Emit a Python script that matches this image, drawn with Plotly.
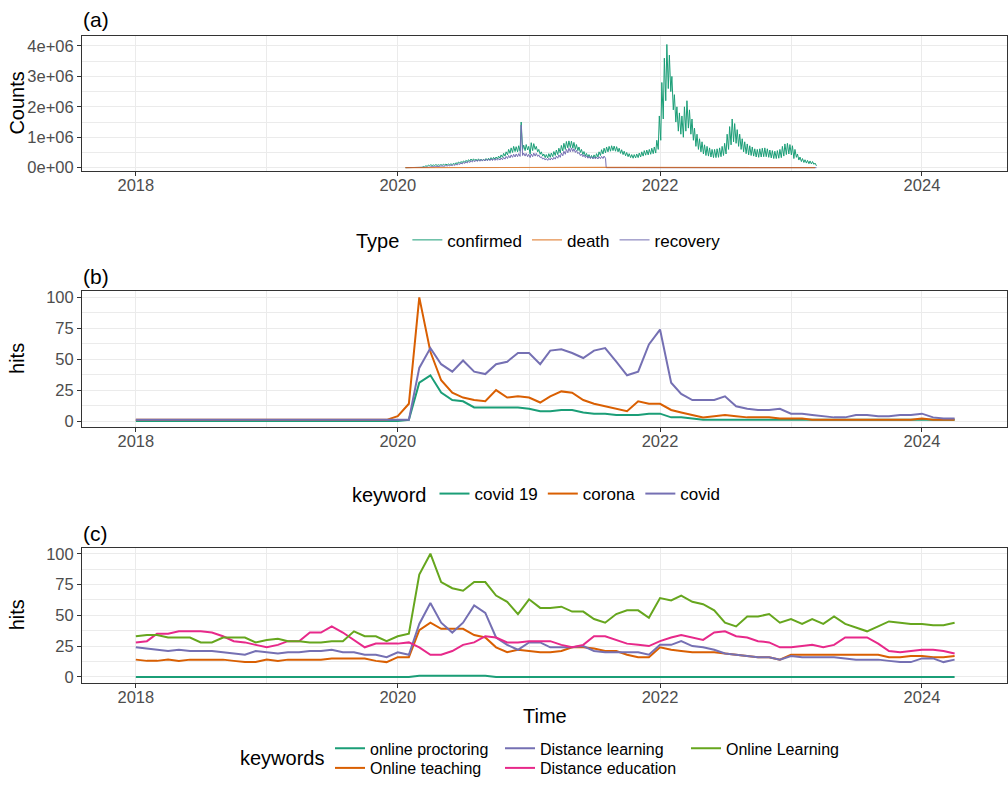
import pandas as pd
import plotly.graph_objects as go

# ---------------------------------------------------------------------------
# (a) Global daily COVID-19 counts, one weekly peak and trough (thousands)
# ---------------------------------------------------------------------------
case_start = "2020-01-22"

confirmed_peak = [
    1, 3, 4, 3, 3, 5,
    15, 35, 60, 80,
    95, 90, 100, 95,
    100, 110, 115, 120, 125,
    140, 160, 185, 200,
    220, 240, 260, 285, 290,
    280, 290, 280, 285,
    300, 310, 330, 340,
    350, 380, 420, 470, 520,
    600, 650, 700, 690,
    720, 1500, 740, 760, 700,
    820, 790, 700, 600,
    520, 450, 430, 460,
    480, 530, 580, 640,
    730, 800, 860, 880, 870,
    830, 760, 680, 600,
    530, 470, 430, 400, 420,
    460, 520, 590, 640,
    680, 700, 720, 710, 690,
    640, 590, 540, 500,
    460, 430, 430, 450,
    480, 520, 560, 580, 600,
    640, 680, 900, 1700,
    2800, 3600, 4050, 3700,
    3000, 2400, 2000, 1800,
    1700, 2000, 2200, 1900, 1600,
    1300, 1100, 950, 850,
    750, 700, 650, 600, 600,
    620, 650, 700, 800,
    1100, 1350, 1600, 1450, 1250,
    1100, 950, 850, 780,
    720, 680, 620, 600,
    620, 640, 650, 620, 580,
    560, 540, 560, 600,
    700, 780, 800, 760, 720,
    600, 450, 350, 300,
    260, 240, 220, 200,
    150,
]
confirmed_trough = [
    0, 1, 2, 2, 1, 2,
    10, 25, 45, 65,
    70, 72, 75, 78,
    80, 85, 90, 95, 100,
    110, 130, 150, 165,
    180, 195, 215, 230, 235,
    220, 230, 225, 230,
    240, 250, 265, 280,
    290, 310, 340, 380, 420,
    470, 500, 530, 520,
    540, 600, 560, 580, 450,
    560, 600, 520, 440,
    380, 330, 320, 340,
    360, 400, 430, 480,
    550, 600, 650, 660, 640,
    600, 560, 500, 430,
    380, 340, 310, 300, 320,
    350, 400, 450, 490,
    520, 540, 560, 540, 520,
    470, 430, 390, 360,
    330, 310, 320, 330,
    350, 380, 410, 420, 440,
    460, 480, 600, 900,
    1600, 2200, 2600, 2500,
    1900, 1500, 1200, 1100,
    1000, 1200, 1300, 1100, 900,
    700, 600, 520, 450,
    400, 380, 350, 330, 330,
    340, 360, 400, 450,
    600, 750, 850, 800, 700,
    600, 520, 460, 420,
    400, 380, 350, 340,
    350, 360, 360, 340, 320,
    300, 300, 310, 330,
    380, 430, 450, 420, 300,
    340, 250, 200, 170,
    150, 130, 120, 110,
    60,
]
# recoveries stopped being reported in early August 2021
recovery_peak = [
    0, 1, 2, 3, 4, 3,
    3, 5, 10, 20,
    30, 40, 45, 50,
    55, 60, 70, 75, 85,
    95, 110, 130, 150,
    170, 190, 210, 230, 240,
    250, 260, 270, 270,
    280, 285, 290, 295,
    300, 300, 320, 340, 370,
    400, 420, 440, 450,
    460, 1400, 480, 470, 440,
    450, 480, 470, 420,
    360, 320, 300, 310,
    320, 340, 380, 420,
    480, 540, 600, 640, 650,
    620, 570, 500, 450,
    420, 390, 370, 360, 350,
    350, 360, 370, 380,
]
recovery_trough = [
    0, 0, 1, 2, 2, 2,
    2, 3, 7, 14,
    22, 30, 35, 40,
    45, 48, 55, 60, 68,
    75, 88, 105, 120,
    140, 155, 170, 185, 195,
    205, 210, 215, 220,
    225, 230, 235, 240,
    245, 250, 260, 280, 300,
    320, 340, 350, 360,
    370, 400, 380, 360, 330,
    360, 380, 370, 330,
    280, 250, 240, 250,
    260, 280, 310, 340,
    390, 440, 490, 520, 530,
    500, 460, 400, 360,
    330, 310, 300, 290, 285,
    285, 295, 300, 310,
]
# monthly deaths (thousands), Jan 2020 .. Mar 2023
death_month = [0.1, 1.5, 4, 7, 5, 4.5, 5, 6, 5.5, 6, 9, 11,
               14, 12, 9, 11, 12, 9, 8, 10, 9.5, 7.5, 7, 7.5,
               9, 10, 6.5, 3.5, 2.5, 1.5, 2, 2.5, 2, 1.5, 1.5, 2,
               2.5, 1.5, 1.2]

# ---------------------------------------------------------------------------
# (b) Monthly search interest, Jan 2018 .. Apr 2024
# ---------------------------------------------------------------------------
covid_19 = [0, 0, 0, 0, 0, 0, 0, 0, 0, 0, 0, 0,
            0, 0, 0, 0, 0, 0, 0, 0, 0, 0, 0, 0,
            0, 1, 31, 37, 23, 17, 16, 11, 11, 11, 11, 11,
            10, 8, 8, 9, 9, 7, 6, 6, 5, 5, 5, 6,
            6, 3, 3, 2, 1, 1, 1, 1, 1, 1, 1, 1,
            1, 1, 1, 1, 1, 1, 1, 1, 1, 1, 1, 1,
            1, 1, 1, 1]
corona = [1, 1, 1, 1, 1, 1, 1, 1, 1, 1, 1, 1,
          1, 1, 1, 1, 1, 1, 1, 1, 1, 1, 1, 1,
          4, 14, 100, 56, 33, 23, 19, 17, 16, 25, 19, 20,
          19, 15, 20, 24, 23, 17, 14, 12, 10, 8, 16, 14,
          14, 9, 7, 5, 3, 4, 5, 4, 3, 3, 3, 2,
          2, 2, 1, 1, 1, 1, 1, 1, 1, 1, 1, 1,
          2, 1, 1, 1]
covid = [1, 1, 1, 1, 1, 1, 1, 1, 1, 1, 1, 1,
         1, 1, 1, 1, 1, 1, 1, 1, 1, 1, 1, 1,
         1, 1, 43, 59, 46, 40, 49, 40, 38, 46, 48, 55,
         55, 46, 57, 58, 55, 51, 57, 59, 48, 37, 40, 62,
         74, 31, 22, 17, 17, 17, 20, 12, 10, 9, 9, 10,
         6, 6, 5, 4, 3, 3, 5, 5, 4, 4, 5, 5,
         6, 3, 2, 2]

# ---------------------------------------------------------------------------
# (c) Monthly search interest for online-education keywords
# ---------------------------------------------------------------------------
online_proctoring = [0, 0, 0, 0, 0, 0, 0, 0, 0, 0, 0, 0,
                     0, 0, 0, 0, 0, 0, 0, 0, 0, 0, 0, 0,
                     0, 0, 1, 1, 1, 1, 1, 1, 1, 0, 0, 0,
                     0, 0, 0, 0, 0, 0, 0, 0, 0, 0, 0, 0,
                     0, 0, 0, 0, 0, 0, 0, 0, 0, 0, 0, 0,
                     0, 0, 0, 0, 0, 0, 0, 0, 0, 0, 0, 0,
                     0, 0, 0, 0]
online_teaching = [14, 13, 13, 14, 13, 14, 14, 14, 14, 13, 12, 12,
                   14, 13, 14, 14, 14, 14, 15, 15, 15, 15, 13, 12,
                   16, 16, 38, 44, 39, 39, 39, 34, 32, 24, 20, 22,
                   21, 20, 20, 21, 24, 24, 23, 21, 21, 18, 16, 16,
                   24, 22, 21, 20, 20, 20, 19, 18, 17, 16, 16, 14,
                   18, 18, 18, 18, 18, 18, 18, 18, 18, 16, 16, 17,
                   17, 16, 16, 17]
distance_learning = [24, 23, 22, 21, 22, 21, 21, 21, 20, 19, 18, 21,
                     20, 19, 20, 20, 21, 21, 22, 20, 20, 18, 18, 16,
                     20, 18, 43, 60, 44, 36, 44, 58, 52, 32, 26, 22,
                     28, 28, 24, 24, 24, 25, 21, 20, 20, 20, 20, 18,
                     26, 26, 29, 25, 24, 22, 19, 18, 17, 16, 16, 14,
                     17, 16, 16, 16, 16, 15, 14, 14, 14, 13, 12, 12,
                     15, 15, 12, 14]
distance_education = [28, 29, 35, 35, 37, 37, 37, 36, 33, 29, 28, 26,
                      24, 26, 29, 29, 36, 36, 41, 36, 30, 24, 27, 27,
                      27, 28, 24, 18, 18, 21, 26, 28, 33, 32, 28, 28,
                      29, 29, 29, 26, 24, 26, 33, 33, 30, 27, 26, 25,
                      29, 32, 34, 32, 30, 36, 37, 33, 32, 29, 28, 24,
                      24, 25, 26, 24, 26, 32, 32, 32, 27, 21, 20, 21,
                      22, 22, 21, 19]
online_learning = [33, 34, 34, 32, 32, 32, 28, 28, 32, 32, 32, 28,
                   30, 31, 29, 29, 28, 28, 29, 29, 37, 33, 33, 29,
                   33, 35, 83, 100, 77, 72, 70, 77, 77, 66, 61, 51,
                   63, 56, 56, 57, 53, 53, 47, 44, 51, 54, 54, 48,
                   64, 62, 66, 61, 59, 54, 44, 41, 49, 49, 51, 44,
                   47, 43, 47, 43, 49, 43, 40, 37, 41, 45, 44, 43,
                   43, 42, 42, 44]

year_ticks = ["2018", "2020", "2022", "2024"]
count_ticks = ["0e+00", "1e+06", "2e+06", "3e+06", "4e+06"]
hit_ticks = [0, 25, 50, 75, 100]

# Dark2 palette
TEAL, ORANGE, PURPLE, PINK, GREEN = "#1B9E77", "#D95F02", "#7570B3", "#E7298A", "#66A61E"

# ---------------------------------------------------------------------------
# Build x values
# ---------------------------------------------------------------------------
weeks = pd.date_range(case_start, periods=len(confirmed_peak), freq="7D")
one_day = pd.Timedelta(days=1)


def weekly_zigzag(peaks, troughs, week_dates):
    xs, ys = [], []
    for d, p, t in zip(week_dates, peaks, troughs):
        xs += [d + one_day, d + 5 * one_day]
        ys += [p * 1000, t * 1000]
    return xs, ys


conf_x, conf_y = weekly_zigzag(confirmed_peak, confirmed_trough, weeks)
rec_x, rec_y = weekly_zigzag(recovery_peak, recovery_trough, weeks[:len(recovery_peak)])
# after reporting stopped the series sits at zero
for d in weeks[len(recovery_peak):]:
    rec_x += [d, d + 5 * one_day]
    rec_y += [0, 0]

death_x = ([pd.Timestamp(case_start)]
           + list(pd.date_range("2020-02-01", "2023-02-01", freq="MS") + 14 * one_day)
           + [pd.Timestamp("2023-03-09")])
death_y = [v * 1000 for v in death_month]

months = pd.date_range("2018-01-01", periods=len(covid), freq="MS")

# ---------------------------------------------------------------------------
# Figure
# ---------------------------------------------------------------------------
W, H = 1008, 785
FONT = "Liberation Sans, Arial, sans-serif"


def fx(p):
    return p / W


def fy(p):
    return 1 - p / H


fig = go.Figure()

# (a) -- deaths drawn last, semi-opaque, so the zero line shows both series
fig.add_trace(go.Scatter(x=conf_x, y=conf_y, mode="lines", name="confirmed",
                         line=dict(color=TEAL, width=1), xaxis="x", yaxis="y",
                         legend="legend", legendrank=1))
fig.add_trace(go.Scatter(x=rec_x, y=rec_y, mode="lines", name="recovery",
                         line=dict(color=PURPLE, width=1), xaxis="x", yaxis="y",
                         legend="legend", legendrank=3))
fig.add_trace(go.Scatter(x=death_x, y=death_y, mode="lines", name="death",
                         line=dict(color=ORANGE, width=1.2), opacity=0.7,
                         xaxis="x", yaxis="y", legend="legend", legendrank=2))

# (b)
for name, vals, col in [("covid 19", covid_19, TEAL), ("corona", corona, ORANGE),
                        ("covid", covid, PURPLE)]:
    fig.add_trace(go.Scatter(x=months, y=vals, mode="lines", name=name,
                             line=dict(color=col, width=2), xaxis="x2", yaxis="y2",
                             legend="legend2"))

# (c) one legend box per key so the entries sit in ggplot-like columns
for name, vals, col, leg in [("online proctoring", online_proctoring, TEAL, "legend3"),
                             ("Online teaching", online_teaching, ORANGE, "legend4"),
                             ("Distance learning", distance_learning, PURPLE, "legend5"),
                             ("Distance education", distance_education, PINK, "legend6"),
                             ("Online Learning", online_learning, GREEN, "legend7")]:
    fig.add_trace(go.Scatter(x=months, y=vals, mode="lines", name=name,
                             line=dict(color=col, width=2), xaxis="x3", yaxis="y3",
                             legend=leg))

x_dom = [fx(82), fx(1007)]
x_common = dict(
    type="date", range=["2017-08-04", "2024-08-25"], domain=x_dom,
    tickvals=["2018-01-01", "2020-01-01", "2022-01-01", "2024-01-01"], ticktext=year_ticks,
    ticks="outside", ticklen=4, tickwidth=1, tickcolor="#333333", ticklabelstandoff=-5,
    tickfont=dict(size=16.5, color="#4D4D4D", family=FONT),
    showgrid=True, gridcolor="#EBEBEB", gridwidth=1,
    minor=dict(tickvals=["2019-01-01", "2021-01-01", "2023-01-01"], showgrid=True,
               gridcolor="#EBEBEB", gridwidth=0.6, ticks=""),
    showline=True, mirror=True, linecolor="#333333", linewidth=1, zeroline=False,
)
y_common = dict(
    ticks="outside", ticklen=4, tickwidth=1, tickcolor="#333333",
    tickfont=dict(size=16.5, color="#4D4D4D", family=FONT),
    showgrid=True, gridcolor="#EBEBEB", gridwidth=1,
    showline=True, mirror=True, linecolor="#333333", linewidth=1, zeroline=False,
)

fig.update_layout(
    width=W, height=H, margin=dict(l=0, r=0, t=0, b=0),
    paper_bgcolor="white", plot_bgcolor="white",
    font=dict(family=FONT, color="black"),
    showlegend=True, hovermode=False,
    xaxis=dict(x_common, anchor="y"),
    xaxis2=dict(x_common, anchor="y2"),
    xaxis3=dict(x_common, anchor="y3"),
    yaxis=dict(y_common, anchor="x", domain=[fy(170.3), fy(33.3)],
               range=[-0.107e6, 4.334e6],
               tickvals=[0, 1e6, 2e6, 3e6, 4e6], ticktext=count_ticks,
               minor=dict(tickvals=[0.5e6, 1.5e6, 2.5e6, 3.5e6], showgrid=True,
                          gridcolor="#EBEBEB", gridwidth=0.6, ticks="")),
    yaxis2=dict(y_common, anchor="x2", domain=[fy(430.3), fy(292.3)], range=[-5, 105],
                tickvals=hit_ticks,
                minor=dict(tickvals=[12.5, 37.5, 62.5, 87.5], showgrid=True,
                           gridcolor="#EBEBEB", gridwidth=0.6, ticks="")),
    yaxis3=dict(y_common, anchor="x3", domain=[fy(689.7), fy(552.3)], range=[-5, 105],
                tickvals=hit_ticks,
                minor=dict(tickvals=[12.5, 37.5, 62.5, 87.5], showgrid=True,
                           gridcolor="#EBEBEB", gridwidth=0.6, ticks="")),
)

leg_font = dict(size=17, family=FONT, color="black")
leg_font_c = dict(size=16, family=FONT, color="black")
leg_title_font = dict(size=20, family=FONT, color="black")
ROW1, ROW2 = 756, 776
fig.update_layout(
    legend=dict(orientation="h", x=fx(540), xanchor="center", y=fy(240.7), yanchor="middle",
                font=leg_font, bgcolor="rgba(0,0,0,0)",
                title=dict(text="Type", side="left", font=leg_title_font)),
    legend2=dict(orientation="h", x=fx(538), xanchor="center", y=fy(498), yanchor="middle",
                 font=leg_font, bgcolor="rgba(0,0,0,0)",
                 title=dict(text="keyword", side="left", font=leg_title_font)),
    legend3=dict(orientation="h", x=fx(330), xanchor="left", y=fy(ROW1), yanchor="middle",
                 font=leg_font_c, bgcolor="rgba(0,0,0,0)"),
    legend4=dict(orientation="h", x=fx(330), xanchor="left", y=fy(ROW2), yanchor="middle",
                 font=leg_font_c, bgcolor="rgba(0,0,0,0)"),
    legend5=dict(orientation="h", x=fx(500), xanchor="left", y=fy(ROW1), yanchor="middle",
                 font=leg_font_c, bgcolor="rgba(0,0,0,0)"),
    legend6=dict(orientation="h", x=fx(500), xanchor="left", y=fy(ROW2), yanchor="middle",
                 font=leg_font_c, bgcolor="rgba(0,0,0,0)"),
    legend7=dict(orientation="h", x=fx(686), xanchor="left", y=fy(ROW1), yanchor="middle",
                 font=leg_font_c, bgcolor="rgba(0,0,0,0)"),
)

annotations = [
    dict(text="(a)", x=fx(81), y=fy(16.5), xanchor="left", yanchor="middle", font=dict(size=21)),
    dict(text="(b)", x=fx(81), y=fy(277), xanchor="left", yanchor="middle", font=dict(size=21)),
    dict(text="(c)", x=fx(81), y=fy(538), xanchor="left", yanchor="middle", font=dict(size=21)),
    dict(text="Counts", x=fx(17), y=fy(102), textangle=-90, xanchor="center",
         yanchor="middle", font=dict(size=20)),
    dict(text="hits", x=fx(17), y=fy(361), textangle=-90, xanchor="center",
         yanchor="middle", font=dict(size=20)),
    dict(text="hits", x=fx(17), y=fy(621), textangle=-90, xanchor="center",
         yanchor="middle", font=dict(size=20)),
    dict(text="Time", x=fx(544.5), y=fy(723), xanchor="center", yanchor="middle",
         font=dict(size=20)),
    dict(text="keywords", x=fx(326), y=fy(766), xanchor="right", yanchor="middle",
         font=dict(size=20)),
]
for a in annotations:
    a.update(xref="paper", yref="paper", showarrow=False)
    a["font"].update(family=FONT, color="black")
fig.update_layout(annotations=annotations)

fig.write_html("out.html")
